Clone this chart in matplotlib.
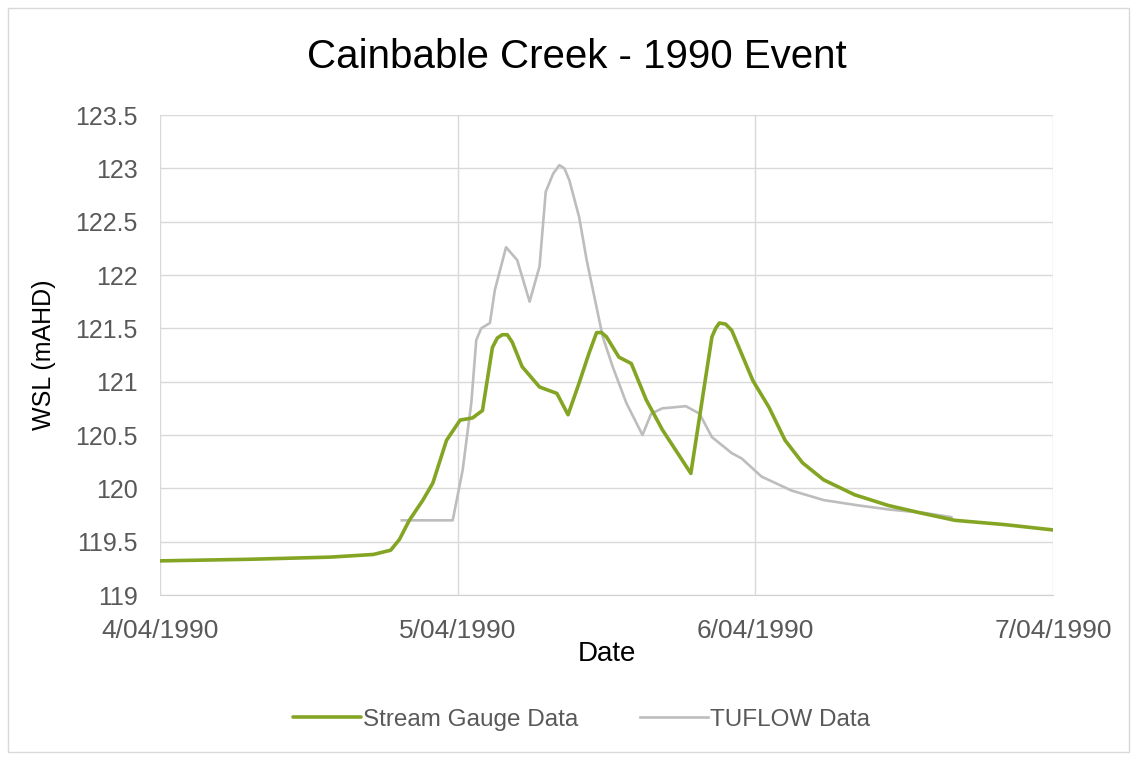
import matplotlib
matplotlib.use('Agg')
import matplotlib.pyplot as plt
import numpy as np
import pandas as pd
from matplotlib.patches import Rectangle
from matplotlib.ticker import FuncFormatter

# Hours after 4/04/1990 00:00 and water surface levels (mAHD)
gauge_hours = [0, 7.25, 13.7, 17.2, 18.6, 19.3, 20.1, 21.2, 22.0, 23.1, 24.2, 25.2,
               26.0, 26.8, 27.2, 27.6, 28.0, 28.4, 29.2, 30.6, 32.0, 32.9, 33.8, 34.6,
               35.2, 35.6, 36.0, 37.0, 38.0, 39.2, 40.5, 42.8, 44.5, 44.8, 45.1, 45.6,
               46.1, 47.8, 49.1, 50.4, 51.8, 53.5, 56.0, 58.7, 61.3, 64.1, 68.1, 72.0]
gauge_wsl = [119.32, 119.335, 119.355, 119.38, 119.42, 119.52, 119.70, 119.89, 120.05,
             120.45, 120.64, 120.66, 120.73, 121.32, 121.41, 121.44, 121.44, 121.37,
             121.14, 120.95, 120.89, 120.69, 120.99, 121.27, 121.46, 121.46, 121.42,
             121.23, 121.17, 120.83, 120.55, 120.14, 121.42, 121.50, 121.55, 121.54,
             121.48, 121.01, 120.76, 120.45, 120.24, 120.08, 119.94, 119.84, 119.77,
             119.70, 119.66, 119.61]

tuflow_hours = [19.5, 23.6, 24.4, 25.1, 25.5, 25.9, 26.6, 27.0, 27.9, 28.8, 29.8,
                30.6, 31.1, 31.7, 32.2, 32.6, 33.0, 33.8, 34.4, 35.7, 36.5, 37.6,
                38.9, 39.6, 40.5, 42.4, 43.5, 44.5, 46.1, 46.9, 48.5, 50.9, 53.5,
                56.3, 58.9, 61.6, 63.8]
tuflow_wsl = [119.70, 119.70, 120.17, 120.80, 121.39, 121.50, 121.55, 121.86, 122.26,
              122.14, 121.75, 122.08, 122.78, 122.95, 123.03, 123.00, 122.89, 122.54,
              122.14, 121.42, 121.14, 120.80, 120.50, 120.70, 120.75, 120.77, 120.70,
              120.48, 120.33, 120.28, 120.11, 119.98, 119.89, 119.84, 119.80, 119.77,
              119.73]

start = pd.Timestamp('1990-04-04')
date_ticks = pd.to_datetime(['1990-04-04', '1990-04-05', '1990-04-06', '1990-04-07'])
tick_labels = ['4/04/1990', '5/04/1990', '6/04/1990', '7/04/1990']

gauge_t = start + pd.to_timedelta(gauge_hours, unit='h')
tuflow_t = start + pd.to_timedelta(tuflow_hours, unit='h')

green = '#84A524'
grey = '#BDBDBD'
text_grey = '#595959'

plt.rcParams['font.family'] = ['Liberation Sans', 'DejaVu Sans']

fig = plt.figure(figsize=(11.37, 7.6), dpi=100)
ax = fig.add_axes([160/1137, 1 - 595/760, (1053-160)/1137, (595-115)/760])

ax.plot(gauge_t, gauge_wsl, color=green, lw=2.6, label='Stream Gauge Data',
        solid_capstyle='round', solid_joinstyle='round', zorder=3)
ax.plot(tuflow_t, tuflow_wsl, color=grey, lw=1.9, label='TUFLOW Data',
        solid_joinstyle='round', zorder=2)

ax.set_xlim(date_ticks[0], date_ticks[-1])
ax.set_ylim(119, 123.5)
ax.set_xticks(date_ticks)
ax.set_xticklabels(tick_labels)
ax.set_yticks(np.arange(119, 123.51, 0.5))
ax.yaxis.set_major_formatter(FuncFormatter(lambda v, p: '%g' % v))

ax.grid(True, color='#D9D9D9', lw=1.0)
ax.set_axisbelow(True)
for s in ['top', 'right', 'left']:
    ax.spines[s].set_visible(False)
ax.spines['bottom'].set_color('#D0D0D0')
ax.tick_params(length=0, labelcolor=text_grey)
ax.tick_params(axis='x', labelsize=19, pad=17)
ax.tick_params(axis='y', labelsize=18, pad=16)

ax.set_xlabel('Date', fontsize=20, labelpad=-1)
ax.set_ylabel('WSL (mAHD)', fontsize=18, labelpad=14)
fig.text(0.507, 1 - 57/760, 'Cainbable Creek - 1990 Event', fontsize=29,
         ha='center', va='center')

leg = ax.legend(loc='center', bbox_to_anchor=(0.472, -0.26), ncol=2, frameon=False,
                fontsize=17.5, handlelength=2.8, handletextpad=0.1, columnspacing=2.5)
for t in leg.get_texts():
    t.set_color(text_grey)

fig.patches.append(Rectangle((8/1137, 8/760), 1 - 16/1137, 1 - 16/760,
                             transform=fig.transFigure, fill=False,
                             edgecolor='#D9D9D9', lw=1.0))

fig.savefig('out.png', dpi=100)
